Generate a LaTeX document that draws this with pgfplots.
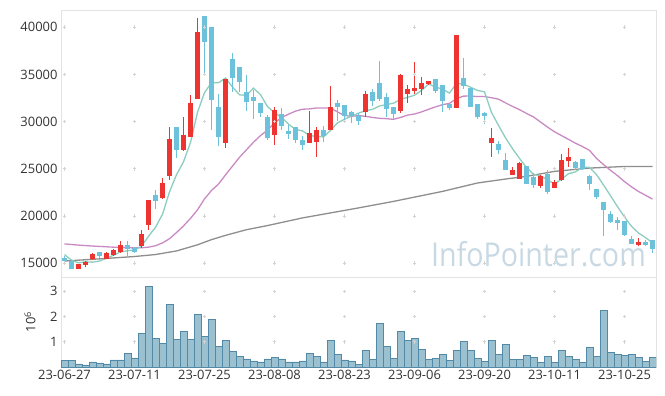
\documentclass[border=0pt]{standalone}
\usepackage{pgfplots}
\usepackage{pgfplotstable}
\pgfplotsset{compat=1.18}
\usepackage{fontspec}
\setmainfont{Open Sans}
\definecolor{upc}{HTML}{EE3430}
\definecolor{dnc}{HTML}{6CC2DA}
\definecolor{mafive}{HTML}{8CCDBE}
\definecolor{matwenty}{HTML}{C98AC4}
\definecolor{masixty}{HTML}{8E8E8E}
\definecolor{volf}{HTML}{9BC1D1}
\definecolor{vold}{HTML}{5289A6}
\definecolor{framec}{HTML}{E3E3E3}
\definecolor{crossc}{HTML}{D3D3D3}
\definecolor{wm}{HTML}{C8D9E4}
\definecolor{txt}{HTML}{333333}

\pgfplotstableread{
i o h l c
2 14470 14970 14450 14860
3 14900 15280 14600 15070
4 15460 16030 15390 15920
6 15530 16170 15460 16030
7 15920 16520 15810 16370
8 16200 17400 16100 16870
11 16900 18530 16630 18000
12 19120 21630 18560 21630
14 22020 24030 21810 23430
15 24300 29420 23770 28080
17 27020 30480 26940 28500
18 28430 32800 28360 31880
19 32440 40940 32440 39420
23 27800 34420 27230 34420
30 28640 31600 27510 31140
35 27790 31140 27730 28710
36 27900 29480 26250 29030
38 29210 33780 29130 31530
43 31070 33260 30480 32830
48 31140 35050 30960 34850
49 32970 33860 32020 33360
50 33260 36270 32940 33510
51 33540 34700 32800 33990
52 34070 34350 33850 34210
56 31490 39100 31490 39100
61 27790 29310 26250 28180
64 24380 25190 24380 24800
65 24030 25680 24030 25540
68 23210 24380 22970 24200
70 23030 23850 23030 23500
71 23850 26600 23670 25920
72 25860 27200 25150 26210
82 17010 17680 16870 17220
}\up

\pgfplotstableread{
i o h l c
0 15530 15740 14970 15250
1 15180 15320 14450 14470
5 16130 16200 15600 15810
9 16840 17400 15570 16520
10 16590 16730 16060 16240
13 22160 22790 20750 21630
16 29340 29340 26140 27090
20 41110 41110 35130 38470
21 39990 39990 29070 32380
22 31530 32900 27370 28430
24 36610 37300 33180 34660
25 35760 35760 33120 34310
26 33120 34920 31180 32130
27 32520 33360 30260 32230
28 31950 31950 30540 30960
29 30480 30720 28080 28320
31 30720 31430 29130 29560
32 28960 29660 28180 28740
33 29340 29480 27790 28080
34 28000 28500 27020 27580
37 29030 29560 27870 28500
39 31880 32300 30060 31600
40 31670 31670 29840 30610
41 31000 31140 29840 30640
42 30540 30900 29630 30120
44 33080 33430 31670 32300
45 33990 36440 32200 32410
46 32590 33010 30480 31390
47 31460 31460 30300 30850
53 34420 34500 33080 33290
54 33780 33860 31040 32200
55 31780 31950 31250 31460
57 34600 36760 33430 33860
58 33470 33500 31500 31600
59 31780 31780 30270 30540
60 30900 31070 29770 30690
62 27550 27900 26600 27020
63 25890 26670 24830 24980
66 25190 25260 23430 23430
67 24090 24560 22970 23310
69 24380 24900 22370 22610
73 25680 25780 24830 25150
74 25960 26030 24830 25080
75 24200 24380 22720 23430
76 22790 22790 21810 22070
77 21380 21450 17850 20750
78 20150 20500 19270 19440
79 19550 19900 18560 19270
80 19400 19400 17850 18000
81 17500 17930 17080 17080
83 17220 17430 16800 17010
84 17400 17400 16030 16520
}\dn

\pgfplotstableread{
i ma5 ma20
0 15920 17050
1 15320 16980
2 15040 16920
3 15150 16870
4 15114 16820
5 15226 16780
6 15538 16740
7 15840 16700
8 16200 16670
9 16320 16640
10 16406 16620
11 16800 16640
12 17852 16700
13 18804 16850
14 20186 17150
15 22554 17600
16 24372 18250
17 25746 18950
18 27796 19750
19 30994 20654
20 33072 21815
21 34130 22710
22 34116 23389
23 34624 24356
24 33672 25293
25 32840 26218
26 32790 27023
27 33550 27816
28 32858 28521
29 31590 29111
30 30956 29856
31 30442 30434
32 29744 30789
33 29168 31112
34 29020 31319
35 28534 31351
36 28428 31448
37 28380 31448
38 29070 31430
39 29874 31039
40 30254 30646
41 30576 30559
42 30900 30644
43 31160 30564
44 31300 30446
45 31660 30351
46 31810 30314
47 31956 30245
48 32360 30440
49 32572 30692
50 32792 30810
51 33312 31032
52 33984 31305
53 33672 31566
54 33440 31797
55 33030 31934
56 34052 32438
57 33982 32706
58 33644 32709
59 33312 32656
60 33158 32660
61 30974 32537
62 29606 32382
63 28282 31990
64 27134 31615
65 26104 31271
66 25154 30873
67 24412 30496
68 24256 29964
69 23818 29426
70 23410 28926
71 23908 28522
72 24488 28122
73 24678 27715
74 25172 27359
75 25158 26958
76 24388 26106
77 23296 25451
78 22154 24843
79 20992 24279
80 19906 23645
81 18908 23090
82 18202 22600
83 17716 22201
84 17166 21787
}\ma

\pgfplotstableread{
i ma60
0 15230
5 15460
10 15710
13 15920
16 16300
19 16950
21 17500
23 17950
26 18550
29 18990
34 19800
38 20330
42 20860
47 21550
54 22610
59 23500
63 23920
66 24200
70 24730
75 25080
80 25250
84 25250
}\masix

\pgfplotstableread{
i v
0 0.25
1 0.25
2 0.12
3 0.08
4 0.20
5 0.16
6 0.12
7 0.28
8 0.28
9 0.55
10 0.36
11 1.34
12 3.20
13 1.14
14 0.95
15 2.49
16 1.10
17 1.42
18 1.10
19 2.09
20 1.22
21 1.89
22 0.83
23 1.07
24 0.63
25 0.43
26 0.32
27 0.24
28 0.20
29 0.32
30 0.39
31 0.32
32 0.20
33 0.20
34 0.24
35 0.55
36 0.43
37 0.20
38 1.07
39 0.51
40 0.28
41 0.24
42 0.11
43 0.66
44 0.30
45 1.73
46 0.82
47 0.34
48 1.42
49 1.06
50 1.14
51 0.70
52 0.30
53 0.34
54 0.50
55 0.26
56 0.66
57 1.02
58 0.66
59 0.34
60 0.22
61 1.06
62 0.50
63 0.90
64 0.30
65 0.30
66 0.46
67 0.38
68 0.18
69 0.42
70 0.18
71 0.66
72 0.42
73 0.30
74 0.18
75 0.78
76 0.42
77 2.25
78 0.58
79 0.50
80 0.46
81 0.50
82 0.38
83 0.22
84 0.38
}\vol

\begin{document}
\begin{tikzpicture}
\useasboundingbox (0,0) rectangle (665bp,396bp);
\node[anchor=base, text=wm, font=\fontsize{33}{36}\selectfont] at (538.5bp,129bp) {\scalebox{0.87}[1]{InfoPointer.com}};
\begin{axis}[
  at={(61bp,119bp)}, anchor=south west, scale only axis,
  width=595bp, height=267bp,
  xmin=-0.5, xmax=84.5, ymin=13540, ymax=41830,
  scaled ticks=false,
  axis line style={framec},
  xtick={0,10,...,80}, xticklabels={},
  ytick={15000,20000,25000,30000,35000,40000},
  yticklabels={15000,20000,25000,30000,35000,40000},
  major tick length=0pt,
  tick label style={font=\fontsize{13}{15}\selectfont, text=txt},
]
\pgfplotsinvokeforeach{0,10,...,80}{
  \addplot[only marks, mark=+, mark size=1.8bp, crossc, line width=0.7bp, forget plot]
    coordinates {(#1,15000)(#1,20000)(#1,25000)(#1,30000)(#1,35000)(#1,40000)};
}
\addplot[masixty, line width=1.3bp, forget plot] table[x=i,y=ma60] \masix;
\addplot[matwenty, line width=1.3bp, forget plot] table[x=i,y=ma20] \ma;
\addplot[mafive, line width=1.3bp, forget plot] table[x=i,y=ma5] \ma;
% wicks
\addplot[draw=none, forget plot, error bars/.cd, y dir=both, y explicit, error mark=none,
  error bar style={line width=1bp, draw=upc}]
  table[x=i, y expr={(\thisrow{h}+\thisrow{l})/2}, y error expr={(\thisrow{h}-\thisrow{l})/2}] \up;
\addplot[draw=none, forget plot, error bars/.cd, y dir=both, y explicit, error mark=none,
  error bar style={line width=1bp, draw=dnc}]
  table[x=i, y expr={(\thisrow{h}+\thisrow{l})/2}, y error expr={(\thisrow{h}-\thisrow{l})/2}] \dn;
% bodies
\addplot[draw=none, forget plot, error bars/.cd, y dir=both, y explicit, error mark=none,
  error bar style={line width=4.6bp, draw=upc}]
  table[x=i, y expr={(\thisrow{o}+\thisrow{c})/2}, y error expr={abs(\thisrow{c}-\thisrow{o})/2+60}] \up;
\addplot[draw=none, forget plot, error bars/.cd, y dir=both, y explicit, error mark=none,
  error bar style={line width=4.6bp, draw=dnc}]
  table[x=i, y expr={(\thisrow{o}+\thisrow{c})/2}, y error expr={abs(\thisrow{c}-\thisrow{o})/2+60}] \dn;
\end{axis}
\begin{axis}[
  at={(61bp,29bp)}, anchor=south west, scale only axis,
  width=595bp, height=90bp,
  xmin=-0.5, xmax=84.5, ymin=0, ymax=3.57,
  scaled ticks=false,
  axis line style={framec},
  xtick={0,10,...,80},
  xticklabels={23-06-27,23-07-11,23-07-25,23-08-08,23-08-23,23-09-06,23-09-20,23-10-11,23-10-25},
  ytick={1,2,3}, yticklabels={1,2,3},
  major tick length=0pt,
  tick label style={font=\fontsize{13}{15}\selectfont, text=txt},
  ylabel={10\textsuperscript{6}},
  every axis y label/.style={at={(axis description cs:-0.052,0.5)}, rotate=90, anchor=center, font=\fontsize{13}{15}\selectfont, text=txt},
]
\pgfplotsinvokeforeach{0,10,...,80}{
  \addplot[only marks, mark=+, mark size=1.8bp, crossc, line width=0.7bp, forget plot]
    coordinates {(#1,1)(#1,2)(#1,3)};
}
\addplot[ybar, bar width=1, bar shift=0pt, fill=volf, draw=vold, line width=0.6bp] table[x=i,y=v] \vol;
\end{axis}
\end{tikzpicture}
\end{document}
